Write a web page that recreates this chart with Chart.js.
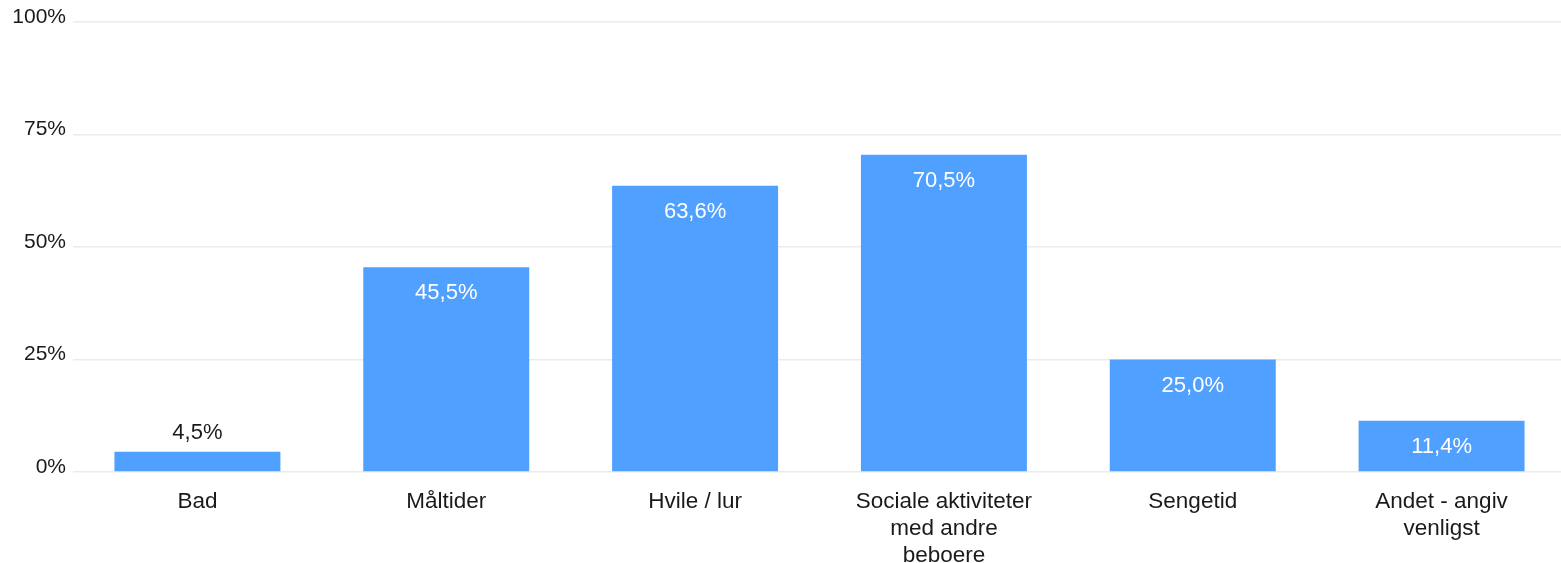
<!DOCTYPE html>
<html>
<head>
<meta charset="utf-8">
<script src="https://cdn.jsdelivr.net/npm/chart.js@4"></script>
<style>
  html, body { margin: 0; padding: 0; background: #fff; overflow: hidden; }
  #wrap { width: 1566px; height: 563px; position: relative; }
</style>
</head>
<body>
<div id="wrap"><canvas id="answers-chart"></canvas></div>
<script>
let categories = ['Bad', 'Måltider', 'Hvile / lur', ['Sociale aktiviteter', 'med andre', 'beboere'], 'Sengetid', ['Andet - angiv', 'venligst']]
let percentages = [4.5, 45.5, 63.6, 70.5, 25.0, 11.4]
let yTicks = [0, 25, 50, 75, 100]

let fontFamily = '"Liberation Sans", Arial, sans-serif'

// writes the value on top of each bar, inside it when there is room
let valueLabels = {
    id: 'valueLabels',
    afterDatasetsDraw(chart) {
        let ctx = chart.ctx
        let meta = chart.getDatasetMeta(0)
        ctx.save()
        ctx.font = '22px ' + fontFamily
        ctx.textAlign = 'center'
        ctx.textBaseline = 'middle'
        meta.data.forEach(function(bar, i) {
            let text = percentages[i].toFixed(1).replace('.', ',') + '%'
            let height = bar.base - bar.y
            if (height < 40) {
                ctx.fillStyle = '#1a1a1a'
                ctx.fillText(text, bar.x, bar.y - 19)
            } else {
                ctx.fillStyle = '#ffffff'
                ctx.fillText(text, bar.x, bar.y + 26)
            }
        })
        ctx.restore()
    }
}

let context = document.querySelector('#answers-chart').getContext('2d')

let chart = new Chart(context, {
    type: 'bar',
    data: {
        labels: categories,
        datasets: [{
            data: percentages,
            backgroundColor: '#50a0ff',
            borderWidth: 0,
            barPercentage: 0.667,
            categoryPercentage: 1
        }]
    },
    options: {
        responsive: true,
        maintainAspectRatio: false,
        animation: false,
        layout: {
            padding: { left: 0, top: 22, right: 0, bottom: 0 }
        },
        plugins: {
            legend: { display: false },
            tooltip: { enabled: false }
        },
        scales: {
            x: {
                grid: { display: false, drawTicks: false },
                border: { display: false },
                afterFit: function(axis) { axis.height = 91 },
                ticks: {
                    color: '#1a1a1a',
                    font: { family: fontFamily, size: 22.5, lineHeight: 1.2 },
                    padding: 16,
                    maxRotation: 0,
                    autoSkip: false
                }
            },
            y: {
                min: 0,
                max: 100,
                afterBuildTicks: function(axis) {
                    axis.ticks = yTicks.map(function(v) { return { value: v } })
                },
                afterFit: function(axis) { axis.width = 73 },
                grid: { color: '#ebebeb', lineWidth: 1.5, drawTicks: false },
                border: { display: false },
                ticks: {
                    color: '#1a1a1a',
                    font: { family: fontFamily, size: 21 },
                    padding: 7,
                    labelOffset: -5,
                    callback: function(v) { return v + '%' }
                }
            }
        }
    },
    plugins: [valueLabels]
})
</script>
</body>
</html>
